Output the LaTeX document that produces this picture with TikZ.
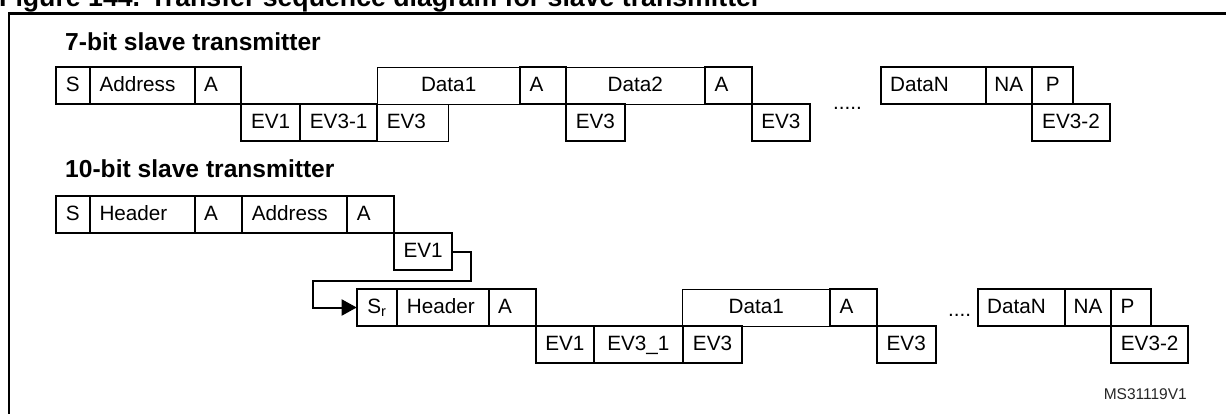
\documentclass[tikz,border=0pt]{standalone}
\usepackage{fontspec}
\setmainfont{Liberation Sans}
\usetikzlibrary{arrows.meta}
\newcommand\cellL[2]{\makebox[#1pt][l]{\hspace*{9.5pt}#2}}
\newcommand\cellC[2]{\makebox[#1pt][c]{#2}}
\begin{document}
\begin{tikzpicture}[x=1pt, y=-1pt,
  cell/.style={draw, line width=2pt, inner xsep=0pt, inner ysep=0pt, outer sep=0pt,
    minimum height=37pt, anchor=north west, text height=14.8pt, text depth=3.2pt,
    font=\fontsize{20.7}{24}\selectfont},
  thinbox/.style={line width=1pt},
  heading/.style={anchor=base west, inner sep=0pt, font=\bfseries\fontsize{24.6}{28}\selectfont},
  dots/.style={anchor=base west, inner sep=0pt, font=\fontsize{20.7}{24}\selectfont},
  conn/.style={line width=2pt, -{Triangle[length=15pt, width=16pt]}}]
\useasboundingbox (0,0) rectangle (1226,413);
% title and frame
\node[anchor=base west, inner sep=0pt, font=\bfseries\fontsize{26.7}{30}\selectfont] (title) at (-1,6) {Figure 144. Transfer sequence diagram for slave transmitter};
\draw[line width=2.2pt] (8.7,430) -- (8.7,13.5) -- (1240,13.5);
% ---------- 7-bit ----------
\node[heading] (h7) at (65,50) {7-bit slave transmitter};
% thin boxes first
\node[cell, thinbox] (d17) at (377.3,67) {\cellC{142.7}{Data1}};
\node[cell, thinbox] (d27) at (565.7,67) {\cellC{139.3}{Data2}};
\node[cell, thinbox] (ev3a7) at (377.3,104) {\cellL{71}{EV3}};
% upper row
\node[cell] (s7) at (55.7,67) {\cellC{34.3}{S}};
\node[cell] (addr7) at (90,67) {\cellL{104.7}{Address}};
\node[cell] (a7a) at (194.7,67) {\cellL{46.6}{A}};
\node[cell] (a7b) at (520,67) {\cellL{45.7}{A}};
\node[cell] (a7c) at (705,67) {\cellL{46.7}{A}};
\node[cell] (dn7) at (880.7,67) {\cellL{105}{DataN}};
\node[cell] (na7) at (985.7,67) {\cellC{46.3}{NA}};
\node[cell] (p7) at (1032,67) {\cellC{41.3}{P}};
% lower row
\node[cell] (ev17) at (241.3,104) {\cellC{58.7}{EV1}};
\node[cell] (ev317) at (300,104) {\cellC{77.3}{EV3-1}};
\node[cell] (ev3b7) at (565.7,104) {\cellC{59.3}{EV3}};
\node[cell] (ev3c7) at (751.7,104) {\cellC{58.3}{EV3}};
\node[cell] (ev327) at (1032,104) {\cellC{78}{EV3-2}};
\node[dots] (dots7) at (833,109.5) {.....};
% ---------- 10-bit ----------
\node[heading] (h10) at (65,177) {10-bit slave transmitter};
\node[cell] (s10) at (55.7,196) {\cellC{34.3}{S}};
\node[cell] (hd10) at (90,196) {\cellL{104.7}{Header}};
\node[cell] (a10a) at (194.7,196) {\cellL{47.6}{A}};
\node[cell] (ad10) at (242.3,196) {\cellL{105}{Address}};
\node[cell] (a10b) at (347.3,196) {\cellL{46.7}{A}};
\node[cell] (ev110) at (394,233) {\cellC{58.3}{EV1}};
% restart row
\node[cell, thinbox] (d110) at (682.7,289) {\cellC{147.3}{Data1}};
\node[cell] (sr) at (356.7,289) {\cellC{40.6}{S\textsubscript{r}}};
\node[cell] (hd10b) at (397.3,289) {\cellL{91.4}{Header}};
\node[cell] (a10c) at (488.7,289) {\cellL{47}{A}};
\node[cell] (a10d) at (830,289) {\cellL{46.7}{A}};
\node[cell] (dn10) at (977.7,289) {\cellL{87.3}{DataN}};
\node[cell] (na10) at (1065,289) {\cellC{46}{NA}};
\node[cell] (p10) at (1111,289) {\cellL{39.7}{P}};
\node[cell] (ev110b) at (535.7,326) {\cellC{58.3}{EV1}};
\node[cell] (ev3u) at (594,326) {\cellC{88.7}{EV3\_1}};
\node[cell] (ev3d) at (682.7,326) {\cellC{59.6}{EV3}};
\node[cell] (ev3e) at (876.7,326) {\cellC{59}{EV3}};
\node[cell] (ev3210) at (1111,326) {\cellC{77.3}{EV3-2}};
\node[dots] (dots10) at (948,316) {....};
% connector EV1 -> Sr
\coordinate (k1) at (471,281);
\coordinate (k2) at (313.3,281);
\draw[conn] (ev110.east) -| (k1) -- (k2) |- (sr.west);
% reference label
\node[anchor=base east, inner sep=0pt, text=black!85, font=\fontsize{15.5}{18}\selectfont] (ref) at (1187,399) {MS31119V1};
\end{tikzpicture}
\end{document}
